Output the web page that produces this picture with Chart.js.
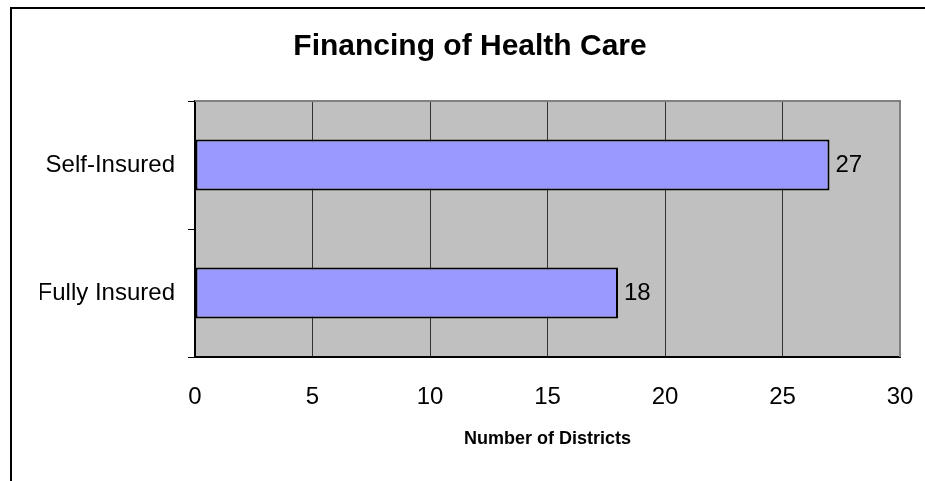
<!DOCTYPE html>
<html>
<head>
<meta charset="utf-8">
<script src="https://cdn.jsdelivr.net/npm/chart.js@4/dist/chart.umd.min.js"></script>
<style>
  html, body { margin: 0; padding: 0; background: #ffffff; }
  #wrap { width: 925px; height: 481px; position: relative; }
</style>
</head>
<body>
<div id="wrap"><canvas id="c" width="925" height="481"></canvas></div>
<script>
const categories = ["Self-Insured", "Fully Insured"];
const districtCounts = [27, 18];
const xTicks = [0, 5, 10, 15, 20, 25, 30];

const FONT = "'Liberation Sans', Arial, sans-serif";

const framePlugin = {
  id: 'frame',
  beforeDraw(chart) {
    const ctx = chart.ctx;
    const a = chart.chartArea;
    ctx.save();
    ctx.fillStyle = '#ffffff';
    ctx.fillRect(0, 0, chart.width, chart.height);
    ctx.fillStyle = '#c0c0c0';
    ctx.fillRect(a.left, a.top, a.right - a.left, a.bottom - a.top);
    ctx.restore();
  },
  afterDraw(chart) {
    const ctx = chart.ctx;
    const a = chart.chartArea;
    ctx.save();
    ctx.strokeStyle = '#808080';
    ctx.lineWidth = 2;
    ctx.beginPath();
    ctx.moveTo(a.left, a.top);
    ctx.lineTo(a.right, a.top);
    ctx.lineTo(a.right, a.bottom);
    ctx.stroke();
    ctx.strokeStyle = '#000000';
    ctx.lineWidth = 2;
    ctx.beginPath();
    ctx.moveTo(11, chart.height + 5);
    ctx.lineTo(11, 8);
    ctx.lineTo(chart.width + 5, 8);
    ctx.stroke();
    ctx.fillStyle = '#000000';
    ctx.font = '24px ' + FONT;
    ctx.textAlign = 'left';
    ctx.textBaseline = 'middle';
    const meta = chart.getDatasetMeta(0);
    meta.data.forEach((bar, i) => {
      ctx.fillText(String(districtCounts[i]), bar.x + 6, bar.y);
    });
    ctx.restore();
  }
};

new Chart(document.getElementById('c'), {
  type: 'bar',
  data: {
    labels: categories,
    datasets: [{
      data: districtCounts,
      backgroundColor: '#9999ff',
      borderColor: '#000000',
      borderWidth: 2,
      borderSkipped: false,
      barPercentage: 0.4,
      categoryPercentage: 1.0
    }]
  },
  options: {
    indexAxis: 'y',
    responsive: false,
    animation: false,
    devicePixelRatio: 1,
    layout: { padding: { left: 40, right: 25, top: 0, bottom: 0 } },
    plugins: {
      legend: { display: false },
      tooltip: { enabled: false },
      title: {
        display: true,
        text: 'Financing of Health Care',
        color: '#000000',
        font: { family: FONT, size: 30, weight: 'bold' },
        padding: { top: 29, bottom: 36 }
      }
    },
    scales: {
      x: {
        type: 'linear',
        min: 0,
        max: 30,
        afterBuildTicks(scale) { scale.ticks = xTicks.map(v => ({ value: v })); },
        afterFit(scale) { scale.height = 124; scale.paddingLeft = 0; scale.paddingRight = 0; },
        grid: {
          color: '#333333',
          lineWidth: 1,
          drawTicks: false,
          drawOnChartArea: true
        },
        border: { display: true, color: '#000000', width: 2 },
        ticks: {
          color: '#000000',
          font: { family: FONT, size: 24 },
          padding: 26
        },
        title: {
          display: true,
          text: 'Number of Districts',
          color: '#000000',
          font: { family: FONT, size: 18, weight: 'bold' },
          padding: { top: 0, bottom: 31 }
        }
      },
      y: {
        type: 'category',
        afterFit(scale) { scale.width = 155; scale.paddingTop = 0; scale.paddingBottom = 0; },
        grid: {
          drawOnChartArea: false,
          drawTicks: true,
          tickLength: 7,
          color: '#000000',
          lineWidth: 1,
          offset: true
        },
        border: { display: true, color: '#000000', width: 2 },
        ticks: {
          color: '#000000',
          font: { family: FONT, size: 24 },
          padding: 13
        }
      }
    }
  },
  plugins: [framePlugin]
});
</script>
</body>
</html>
